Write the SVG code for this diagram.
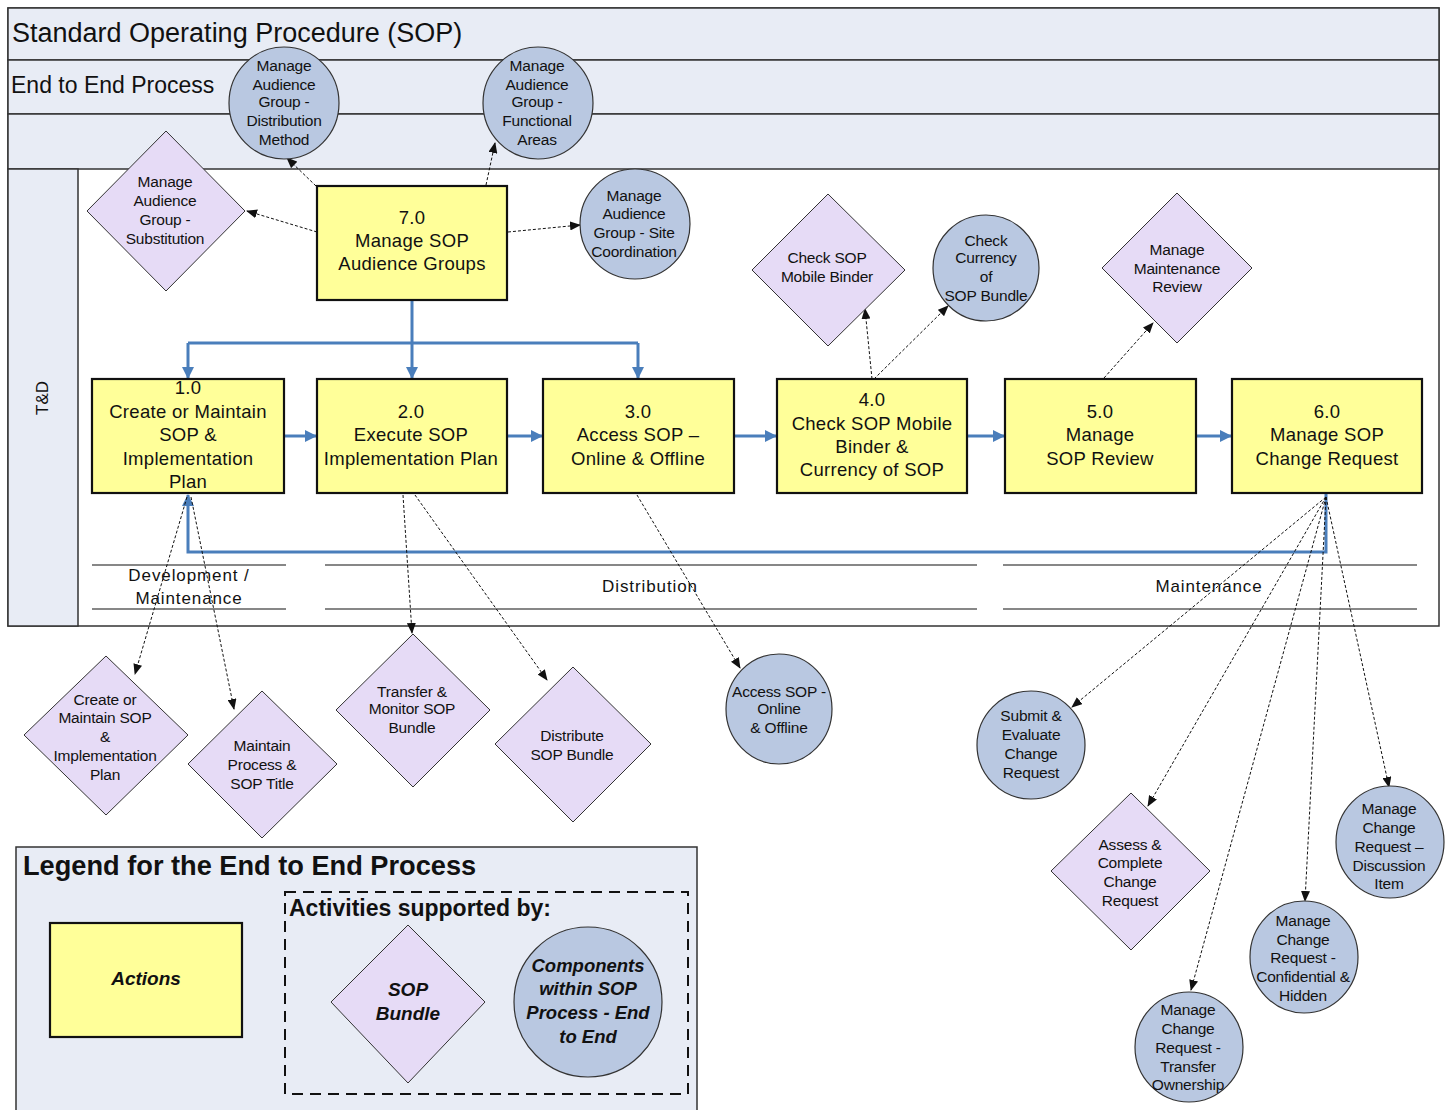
<svg xmlns="http://www.w3.org/2000/svg" width="1445" height="1110" viewBox="0 0 1445 1110">
<style>
text{font-family:"Liberation Sans",Arial,sans-serif;fill:#111}
.band{fill:#e8ecf5;stroke:#333;stroke-width:1.5}
.box{fill:#ffff99;stroke:#111;stroke-width:2.2}
.dia{fill:#e6dbf6;stroke:#333;stroke-width:1}
.cir{fill:#b9c8e1;stroke:#333;stroke-width:1.2}
.bt{font-size:18.5px;text-anchor:middle;letter-spacing:0.3px}
.st{font-size:15.5px;text-anchor:middle;letter-spacing:-0.2px}
.dot{fill:none;stroke:#111;stroke-width:1;stroke-dasharray:3 2;marker-end:url(#ah)}
.blue{fill:none;stroke:#4a7ebb;stroke-width:3}
.ba{marker-end:url(#bh)}
.ph{stroke:#111;stroke-width:1.2}
.pt{font-size:17px;text-anchor:middle;letter-spacing:0.9px}
.lg{font-weight:bold;font-style:italic;text-anchor:middle}
</style>
<defs>
<marker id="ah" markerUnits="userSpaceOnUse" markerWidth="11" markerHeight="9" refX="10" refY="4.5" orient="auto"><path d="M0,0 L11,4.5 L0,9 z" fill="#111"/></marker>
<marker id="bh" markerUnits="userSpaceOnUse" markerWidth="12" markerHeight="12" refX="11" refY="6" orient="auto"><path d="M0,0 L12,6 L0,12 z" fill="#4a7ebb"/></marker>
</defs>

<g id="frame">
<rect x="8" y="8" width="1431" height="618" fill="#fff" stroke="#333" stroke-width="1.5"/>
<rect class="band" x="8" y="8" width="1431" height="52"/>
<rect class="band" x="8" y="60" width="1431" height="54"/>
<rect class="band" x="8" y="114" width="1431" height="55"/>
<rect class="band" x="8" y="169" width="70" height="457"/>
<text x="12" y="42" font-size="27">Standard Operating Procedure (SOP)</text>
<text x="11" y="93" font-size="23">End to End Process</text>
<text transform="translate(48,398) rotate(-90)" font-size="17" text-anchor="middle">T&amp;D</text>
</g>

<g id="phases">
<line class="ph" x1="92" y1="565" x2="286" y2="565"/><line class="ph" x1="92" y1="609" x2="286" y2="609"/>
<line class="ph" x1="325" y1="565" x2="977" y2="565"/><line class="ph" x1="325" y1="609" x2="977" y2="609"/>
<line class="ph" x1="1003" y1="565" x2="1417" y2="565"/><line class="ph" x1="1003" y1="609" x2="1417" y2="609"/>
<text class="pt" x="189" y="581">Development /</text>
<text class="pt" x="189" y="604">Maintenance</text>
<text class="pt" x="650" y="592">Distribution</text>
<text class="pt" x="1209" y="592">Maintenance</text>
</g>

<g id="connectors">
<path class="blue" d="M412,300 V343"/>
<path class="blue" d="M188,343 H638"/>
<path class="blue ba" d="M188,343 V378"/>
<path class="blue ba" d="M412,343 V378"/>
<path class="blue ba" d="M638,343 V378"/>
<path class="blue ba" d="M285,436 H316"/>
<path class="blue ba" d="M508,436 H542"/>
<path class="blue ba" d="M735,436 H776"/>
<path class="blue ba" d="M968,436 H1004"/>
<path class="blue ba" d="M1197,436 H1231"/>
<path class="blue ba" d="M1326,493 V552 H188 V495"/>
<path class="dot" d="M316,186 L287,158"/>
<path class="dot" d="M486,185 L495,143"/>
<path class="dot" d="M317,232 L247,211"/>
<path class="dot" d="M508,232 L580,225"/>
<path class="dot" d="M872,379 L865,309"/>
<path class="dot" d="M874,379 L948,306"/>
<path class="dot" d="M1104,378 L1153,323"/>
<path class="dot" d="M403,495 L412,633"/>
<path class="dot" d="M415,495 L547,680"/>
<path class="dot" d="M637,495 L740,668"/>
<path class="dot" d="M187,497 L135,674"/>
<path class="dot" d="M191,497 L234,709"/>
<path class="dot" d="M1326,497 L1072,707"/>
<path class="dot" d="M1326,497 L1148,806"/>
<path class="dot" d="M1326,497 L1191,990"/>
<path class="dot" d="M1326,497 L1305,901"/>
<path class="dot" d="M1326,497 L1389,787"/>
</g>

<g id="n7"><rect class="box" x="317" y="186" width="190" height="114"/>
<text class="bt" x="412" y="224">7.0</text><text class="bt" x="412" y="247">Manage SOP</text><text class="bt" x="412" y="270">Audience Groups</text></g>
<g id="n1"><rect class="box" x="92" y="379" width="192" height="114"/>
<text class="bt" x="188" y="394">1.0</text><text class="bt" x="188" y="418">Create or Maintain</text><text class="bt" x="188" y="441">SOP &amp;</text><text class="bt" x="188" y="465">Implementation</text><text class="bt" x="188" y="488">Plan</text></g>
<g id="n2"><rect class="box" x="317" y="379" width="190" height="114"/>
<text class="bt" x="411" y="418">2.0</text><text class="bt" x="411" y="441">Execute SOP</text><text class="bt" x="411" y="465">Implementation Plan</text></g>
<g id="n3"><rect class="box" x="543" y="379" width="191" height="114"/>
<text class="bt" x="638" y="418">3.0</text><text class="bt" x="638" y="441">Access SOP –</text><text class="bt" x="638" y="465">Online &amp; Offline</text></g>
<g id="n4"><rect class="box" x="777" y="379" width="190" height="114"/>
<text class="bt" x="872" y="406">4.0</text><text class="bt" x="872" y="430">Check SOP Mobile</text><text class="bt" x="872" y="453">Binder &amp;</text><text class="bt" x="872" y="476">Currency of SOP</text></g>
<g id="n5"><rect class="box" x="1005" y="379" width="191" height="114"/>
<text class="bt" x="1100" y="418">5.0</text><text class="bt" x="1100" y="441">Manage</text><text class="bt" x="1100" y="465">SOP Review</text></g>
<g id="n6"><rect class="box" x="1232" y="379" width="190" height="114"/>
<text class="bt" x="1327" y="418">6.0</text><text class="bt" x="1327" y="441">Manage SOP</text><text class="bt" x="1327" y="465">Change Request</text></g>

<g id="c-distmethod"><ellipse class="cir" cx="284" cy="103" rx="55" ry="56"/>
<text class="st" x="284" y="71">Manage</text><text class="st" x="284" y="90">Audience</text><text class="st" x="284" y="107">Group -</text><text class="st" x="284" y="126">Distribution</text><text class="st" x="284" y="145">Method</text></g>
<g id="c-funcareas"><ellipse class="cir" cx="538" cy="103" rx="55" ry="56"/>
<text class="st" x="537" y="71">Manage</text><text class="st" x="537" y="90">Audience</text><text class="st" x="537" y="107">Group -</text><text class="st" x="537" y="126">Functional</text><text class="st" x="537" y="145">Areas</text></g>
<g id="d-subst"><polygon class="dia" points="166,131 245,211 166,291 87,211"/>
<text class="st" x="165" y="187">Manage</text><text class="st" x="165" y="206">Audience</text><text class="st" x="165" y="225">Group -</text><text class="st" x="165" y="244">Substitution</text></g>
<g id="c-site"><ellipse class="cir" cx="635" cy="224" rx="55" ry="55"/>
<text class="st" x="634" y="201">Manage</text><text class="st" x="634" y="219">Audience</text><text class="st" x="634" y="238">Group - Site</text><text class="st" x="634" y="257">Coordination</text></g>
<g id="d-mobile"><polygon class="dia" points="828,194 905,270 828,346 752,270"/>
<text class="st" x="827" y="263">Check SOP</text><text class="st" x="827" y="282">Mobile Binder</text></g>
<g id="c-currency"><ellipse class="cir" cx="986" cy="268" rx="53" ry="53"/>
<text class="st" x="986" y="246">Check</text><text class="st" x="986" y="263">Currency</text><text class="st" x="986" y="282">of</text><text class="st" x="986" y="301">SOP Bundle</text></g>
<g id="d-maintreview"><polygon class="dia" points="1177,193 1252,268 1177,343 1102,268"/>
<text class="st" x="1177" y="255">Manage</text><text class="st" x="1177" y="274">Maintenance</text><text class="st" x="1177" y="292">Review</text></g>
<g id="d-create"><polygon class="dia" points="106,656 188,735 106,815 24,735"/>
<text class="st" x="105" y="705">Create or</text><text class="st" x="105" y="723">Maintain SOP</text><text class="st" x="105" y="742">&amp;</text><text class="st" x="105" y="761">Implementation</text><text class="st" x="105" y="780">Plan</text></g>
<g id="d-title"><polygon class="dia" points="262,691 337,764 262,838 188,764"/>
<text class="st" x="262" y="751">Maintain</text><text class="st" x="262" y="770">Process &amp;</text><text class="st" x="262" y="789">SOP Title</text></g>
<g id="d-transfer"><polygon class="dia" points="413,634 490,710 413,787 336,710"/>
<text class="st" x="412" y="697">Transfer &amp;</text><text class="st" x="412" y="714">Monitor SOP</text><text class="st" x="412" y="733">Bundle</text></g>
<g id="d-distribute"><polygon class="dia" points="573,667 651,744 573,822 495,744"/>
<text class="st" x="572" y="741">Distribute</text><text class="st" x="572" y="760">SOP Bundle</text></g>
<g id="c-access"><ellipse class="cir" cx="779" cy="709" rx="53" ry="55"/>
<text class="st" x="779" y="697">Access SOP -</text><text class="st" x="779" y="714">Online</text><text class="st" x="779" y="733">&amp; Offline</text></g>
<g id="c-submit"><ellipse class="cir" cx="1031" cy="745" rx="54" ry="54"/>
<text class="st" x="1031" y="721">Submit &amp;</text><text class="st" x="1031" y="740">Evaluate</text><text class="st" x="1031" y="759">Change</text><text class="st" x="1031" y="778">Request</text></g>
<g id="d-assess"><polygon class="dia" points="1131,793 1210,871 1131,950 1051,871"/>
<text class="st" x="1130" y="850">Assess &amp;</text><text class="st" x="1130" y="868">Complete</text><text class="st" x="1130" y="887">Change</text><text class="st" x="1130" y="906">Request</text></g>
<g id="c-discussion"><ellipse class="cir" cx="1390" cy="842" rx="54" ry="56"/>
<text class="st" x="1389" y="814">Manage</text><text class="st" x="1389" y="833">Change</text><text class="st" x="1389" y="852">Request –</text><text class="st" x="1389" y="871">Discussion</text><text class="st" x="1389" y="889">Item</text></g>
<g id="c-confidential"><ellipse class="cir" cx="1304" cy="957" rx="54" ry="56"/>
<text class="st" x="1303" y="926">Manage</text><text class="st" x="1303" y="945">Change</text><text class="st" x="1303" y="963">Request -</text><text class="st" x="1303" y="982">Confidential &amp;</text><text class="st" x="1303" y="1001">Hidden</text></g>
<g id="c-ownership"><ellipse class="cir" cx="1189" cy="1047" rx="54" ry="55"/>
<text class="st" x="1188" y="1015">Manage</text><text class="st" x="1188" y="1034">Change</text><text class="st" x="1188" y="1053">Request -</text><text class="st" x="1188" y="1072">Transfer</text><text class="st" x="1188" y="1090">Ownership</text></g>

<g id="legend">
<rect x="16" y="847" width="681" height="270" fill="#e8ecf5" stroke="#333" stroke-width="1.5"/>
<text x="23" y="875" font-size="27.2" font-weight="bold">Legend for the End to End Process</text>
<rect class="box" x="50" y="923" width="192" height="114"/>
<text class="lg" x="146" y="985" font-size="19">Actions</text>
<rect x="285" y="892" width="403" height="202" fill="none" stroke="#111" stroke-width="2" stroke-dasharray="11 7"/>
<text x="289" y="916" font-size="23" font-weight="bold">Activities supported by:</text>
<polygon class="dia" points="408,925 485,1002 408,1083 331,1002"/>
<text class="lg" x="408" y="996" font-size="19">SOP</text><text class="lg" x="408" y="1020" font-size="19">Bundle</text>
<ellipse class="cir" cx="588" cy="1002" rx="74" ry="75"/>
<text class="lg" x="588" y="972" font-size="18.5">Components</text><text class="lg" x="588" y="995" font-size="18.5">within SOP</text><text class="lg" x="588" y="1019" font-size="18.5">Process - End</text><text class="lg" x="588" y="1043" font-size="18.5">to End</text>
</g>
</svg>
